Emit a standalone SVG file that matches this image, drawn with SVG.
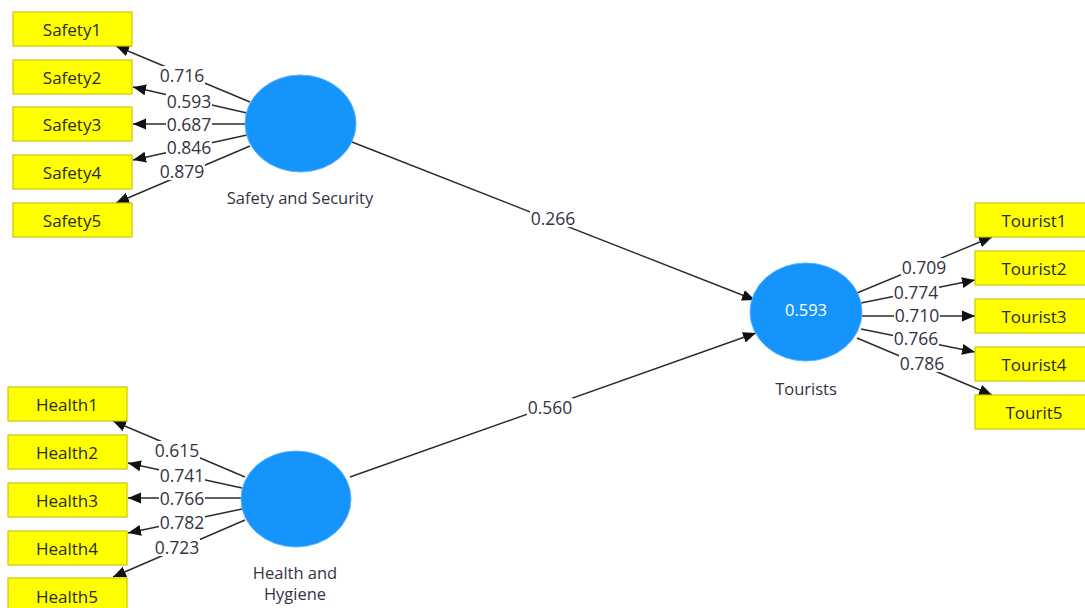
<svg xmlns="http://www.w3.org/2000/svg" width="1085" height="608" viewBox="0 0 1085 608">
<style>
.bg{fill:#ffffff}
.box{fill:#ffff00;stroke:#c9c900;stroke-width:1.2}
.bt{font-family:"Open Sans","Noto Sans",sans-serif;font-size:17px;fill:#2a2a2a;text-anchor:middle;dominant-baseline:central}
.lv{fill:#1595fb;stroke:#5ab0ff;stroke-width:1}
.lt{font-family:"Open Sans","Noto Sans",sans-serif;font-size:16.5px;fill:#333344;text-anchor:middle;dominant-baseline:central}
.wt{font-family:"Open Sans","Noto Sans",sans-serif;font-size:16.5px;fill:#ffffff;text-anchor:middle;dominant-baseline:central}
.ln{stroke:#2b2b2b;stroke-width:1.4;fill:none;marker-end:url(#ah)}
.lb{fill:#ffffff}
.num{font-family:"Open Sans","Noto Sans",sans-serif;font-size:17.5px;fill:#333344;text-anchor:middle;dominant-baseline:central}
</style>
<defs>
<marker id="ah" markerUnits="userSpaceOnUse" markerWidth="14" markerHeight="14" viewBox="0 0 14 14" refX="13" refY="7" orient="auto">
<path d="M0,1.5 L13,7 L0,12.5 Z" fill="#111111"/>
</marker>
</defs>
<rect class="bg" x="0" y="0" width="1085" height="608"/>
<g id="connectors">
<line class="ln" x1="250" y1="102" x2="116" y2="46"/>
<line class="ln" x1="247" y1="113" x2="133" y2="87"/>
<line class="ln" x1="245" y1="124" x2="133" y2="124"/>
<line class="ln" x1="247" y1="135" x2="133" y2="160"/>
<line class="ln" x1="250" y1="146" x2="116" y2="203"/>
<line class="ln" x1="245" y1="477" x2="113" y2="421"/>
<line class="ln" x1="242" y1="488" x2="128" y2="463"/>
<line class="ln" x1="241" y1="498" x2="128" y2="498"/>
<line class="ln" x1="242" y1="509" x2="128" y2="533"/>
<line class="ln" x1="245" y1="520" x2="113" y2="577"/>
<line class="ln" x1="857" y1="293" x2="992" y2="237"/>
<line class="ln" x1="861" y1="303" x2="975" y2="280"/>
<line class="ln" x1="862" y1="316" x2="975" y2="316"/>
<line class="ln" x1="861" y1="329" x2="975" y2="352"/>
<line class="ln" x1="857" y1="338" x2="992" y2="395"/>
<line class="ln" x1="352" y1="142" x2="755" y2="300"/>
<line class="ln" x1="350" y1="477" x2="756" y2="333"/>
<rect class="lb" x="159" y="66" width="46" height="18"/><text class="num" x="182" y="75">0.716</text>
<rect class="lb" x="166" y="92" width="46" height="18"/><text class="num" x="189" y="101">0.593</text>
<rect class="lb" x="166" y="115" width="46" height="18"/><text class="num" x="189" y="124">0.687</text>
<rect class="lb" x="166" y="138" width="46" height="18"/><text class="num" x="189" y="147">0.846</text>
<rect class="lb" x="159" y="162" width="46" height="18"/><text class="num" x="182" y="171">0.879</text>
<rect class="lb" x="154" y="441" width="46" height="18"/><text class="num" x="177" y="450">0.615</text>
<rect class="lb" x="159" y="466" width="46" height="18"/><text class="num" x="182" y="475">0.741</text>
<rect class="lb" x="159" y="489" width="46" height="18"/><text class="num" x="182" y="498">0.766</text>
<rect class="lb" x="159" y="513" width="46" height="18"/><text class="num" x="182" y="522">0.782</text>
<rect class="lb" x="154" y="538" width="46" height="18"/><text class="num" x="177" y="547">0.723</text>
<rect class="lb" x="901" y="258" width="46" height="18"/><text class="num" x="924" y="267">0.709</text>
<rect class="lb" x="893" y="283" width="46" height="18"/><text class="num" x="916" y="292">0.774</text>
<rect class="lb" x="894" y="306" width="46" height="18"/><text class="num" x="917" y="315">0.710</text>
<rect class="lb" x="893" y="329" width="46" height="18"/><text class="num" x="916" y="338">0.766</text>
<rect class="lb" x="899" y="354" width="46" height="18"/><text class="num" x="922" y="363">0.786</text>
<rect class="lb" x="530" y="209" width="46" height="18"/><text class="num" x="553" y="218">0.266</text>
<rect class="lb" x="527" y="398" width="46" height="18"/><text class="num" x="550" y="407">0.560</text>
</g>
<g id="safety-security">
<ellipse class="lv" cx="300.5" cy="123.5" rx="55.5" ry="48.5"/>
<text class="lt" x="300" y="197">Safety and Security</text>
</g>
<g id="health-hygiene">
<ellipse class="lv" cx="296" cy="499" rx="55" ry="48"/>
<text class="lt" x="295" y="572">Health and</text>
<text class="lt" x="295" y="593">Hygiene</text>
</g>
<g id="tourists">
<ellipse class="lv" cx="806" cy="312" rx="56" ry="49"/>
<text class="wt" x="806" y="309">0.593</text>
<text class="lt" x="806" y="388">Tourists</text>
</g>
<g id="safety1"><rect class="box" x="13" y="12" width="119" height="34"/><text class="bt" x="72" y="29">Safety1</text></g>
<g id="safety2"><rect class="box" x="13" y="60" width="119" height="34"/><text class="bt" x="72" y="77">Safety2</text></g>
<g id="safety3"><rect class="box" x="13" y="107" width="119" height="34"/><text class="bt" x="72" y="124">Safety3</text></g>
<g id="safety4"><rect class="box" x="13" y="155" width="119" height="34"/><text class="bt" x="72" y="172">Safety4</text></g>
<g id="safety5"><rect class="box" x="13" y="203" width="119" height="34"/><text class="bt" x="72" y="220">Safety5</text></g>
<g id="health1"><rect class="box" x="8" y="387" width="119" height="34"/><text class="bt" x="67" y="404">Health1</text></g>
<g id="health2"><rect class="box" x="8" y="435" width="119" height="34"/><text class="bt" x="67" y="452">Health2</text></g>
<g id="health3"><rect class="box" x="8" y="483" width="119" height="34"/><text class="bt" x="67" y="500">Health3</text></g>
<g id="health4"><rect class="box" x="8" y="531" width="119" height="34"/><text class="bt" x="67" y="548">Health4</text></g>
<g id="health5"><rect class="box" x="8" y="578" width="119" height="34"/><text class="bt" x="67" y="596">Health5</text></g>
<g id="tourist1"><rect class="box" x="975" y="203" width="119" height="34"/><text class="bt" x="1034" y="220">Tourist1</text></g>
<g id="tourist2"><rect class="box" x="975" y="251" width="119" height="34"/><text class="bt" x="1034" y="268">Tourist2</text></g>
<g id="tourist3"><rect class="box" x="975" y="299" width="119" height="34"/><text class="bt" x="1034" y="316">Tourist3</text></g>
<g id="tourist4"><rect class="box" x="975" y="347" width="119" height="34"/><text class="bt" x="1034" y="364">Tourist4</text></g>
<g id="tourit5"><rect class="box" x="975" y="395" width="119" height="34"/><text class="bt" x="1034" y="412">Tourit5</text></g>
</svg>
